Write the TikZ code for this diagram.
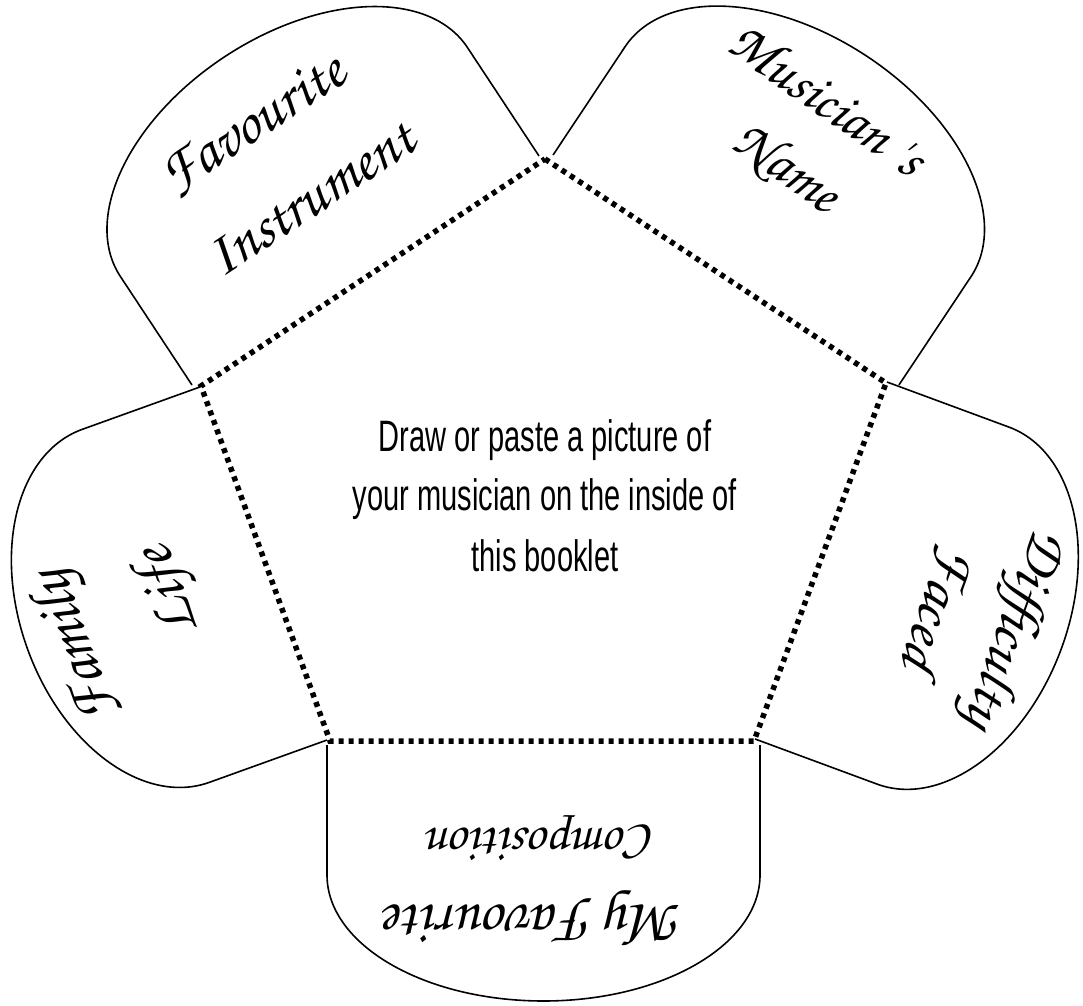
\documentclass[tikz,border=0pt]{standalone}
\usepackage{fontspec}
\newfontfamily\condfont[FakeStretch=0.66]{Liberation Sans}
\newfontfamily\chorus{texgyrechorus-mediumitalic.otf}
\newcommand\drawflap[4]{%
  \begin{scope}[shift={(#1)}, rotate=#2]
    \draw[flapline] (-#3,0) -- (-#3,#4) arc[start angle=180, end angle=0, x radius=#3, y radius=126] -- (#3,0);
  \end{scope}}
\begin{document}
\begin{tikzpicture}[x=1pt, y=1pt,
  flapline/.style={line width=1.6pt, line join=round},
  fold/.style={line width=5.5pt, dash pattern=on 5pt off 5pt},
  scripttext/.style={font=\chorus\fontsize{60}{60}\selectfont, inner sep=0pt},
  maintext/.style={font=\condfont\fontsize{44}{50}\selectfont, anchor=base, inner sep=0pt}]
  \fill[white] (0,0) rectangle (1083,1005);
  \useasboundingbox (0,0) rectangle (1083,1005);
  % pentagon vertices
  \coordinate (T)  at (545,846);
  \coordinate (UR) at (886,622);
  \coordinate (LR) at (754,264);
  \coordinate (LL) at (330,264);
  \coordinate (UL) at (201,619);
  % flaps
  \drawflap{365.5,734.5}{33.42}{207.9}{130}
  \drawflap{726,735}{-33.62}{207.7}{130}
  \drawflap{821,444.5}{-110.29}{190.3}{130}
  \drawflap{543.5,260}{180}{216.5}{130}
  \drawflap{263.5,441.5}{109.79}{187.6}{125}
  % fold lines
  \draw[fold] (T) -- (UR) -- (LR) -- (LL) -- (UL) -- cycle;
  % centre text
  \node[maintext] (c1) at (545,553) {Draw or paste a picture of};
  \node[maintext] (c2) at (545,494) {your musician on the inside of};
  \node[maintext] (c3) at (545,434) {this booklet};
  % flap texts
  \node[scripttext, rotate=33.4] (fav) at (254,880) {Favourite};
  \node[scripttext, rotate=33.4] (ins) at (311,806) {Instrument};
  \node[scripttext, rotate=-35, font=\chorus\fontsize{56}{56}\selectfont] (mus) at (828,906) {Musician 's};
  \node[scripttext, rotate=-35, font=\chorus\fontsize{56}{56}\selectfont] (nam) at (786,836) {Name};
  \node[scripttext, rotate=110, font=\chorus\fontsize{62}{62}\selectfont] (fam) at (78,359) {Family};
  \node[scripttext, rotate=110, font=\chorus\fontsize{62}{62}\selectfont] (lif) at (170,414) {Life};
  \node[scripttext, rotate=-110] (dif) at (1012,377) {Difficulty};
  \node[scripttext, rotate=-110] (fac) at (938,397) {Faced};
  \node[scripttext, rotate=180] (myf) at (534,87) {My Favourite};
  \node[scripttext, rotate=180, font=\chorus\fontsize{52}{52}\selectfont] (com) at (542,167) {Composition};
\end{tikzpicture}
\end{document}
